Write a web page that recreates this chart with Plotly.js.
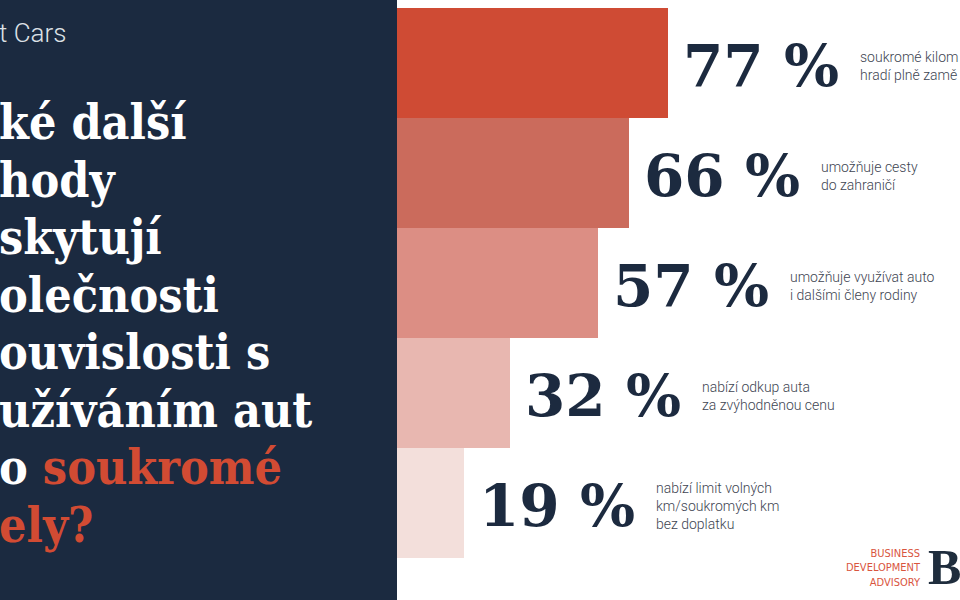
<!DOCTYPE html>
<html><head><meta charset="utf-8">
<script src="https://cdn.plot.ly/plotly-3.0.1.min.js"></script>
<style>html,body{margin:0;padding:0;background:#fff;overflow:hidden}#chart{width:960px;height:600px;}</style>
</head><body><div id="chart"></div>
<script>
// ---- data ----
const categories = ["soukromé km", "cesty do zahraničí", "členové rodiny", "odkup auta", "limit volných km"];
const values = [77, 66, 57, 32, 19];
const valueLabels = ["77 %", "66 %", "57 %", "32 %", "19 %"];
const descriptions = [
  "soukromé kilom<br>hradí plně zamě",
  "umožňuje cesty<br>do zahraničí",
  "umožňuje využívat auto<br>i dalšími členy rodiny",
  "nabízí odkup auta<br>za zvýhodněnou cenu",
  "nabízí limit volných<br>km/soukromých km<br>bez doplatku"
];
const titleLines = [
  "ké další",
  "hody",
  "skytují",
  "olečnosti",
  "ouvislosti s",
  "užíváním aut",
  "o <span style=\"color:#d24b33\">soukromé</span>",
  "<span style=\"color:#d24b33\">ely?</span>"
];
const topLabel = "t Cars";
const logoText = "BUSINESS<br>DEVELOPMENT<br>ADVISORY";
const logoLetter = "B";

// ---- styles ----
const barColors = ["#cf4b34", "#cb6b5c", "#dc8e84", "#e8b7b0", "#f3dfdb"];
const W = 960, H = 600;
const navy = "#1b2a40";
const px = v => v / W;
const py = v => 1 - v / H;

const annotations = [];
titleLines.forEach((t, i) => {
  annotations.push({
    xref: "paper", yref: "paper", x: px(-3), y: py(122 + 57.5 * i),
    xanchor: "left", yanchor: "middle", showarrow: false, text: t, align: "left",
    font: {family: "DejaVu Serif Condensed, DejaVu Serif", size: 48, color: "#ffffff", weight: 700}
  });
});
annotations.push({
  xref: "paper", yref: "paper", x: px(-3), y: py(33), xanchor: "left", yanchor: "middle",
  showarrow: false, text: topLabel,
  font: {family: "Roboto", size: 26, color: "#dde1e6", weight: 300}
});
values.forEach((v, i) => {
  annotations.push({
    xref: "x", yref: "y", x: v, y: categories[i], xanchor: "right", yanchor: "middle",
    xshift: 173, yshift: -3, showarrow: false, text: valueLabels[i],
    font: {family: "DejaVu Serif", size: 58, color: "#1c2a3f", weight: 700}
  });
  annotations.push({
    xref: "x", yref: "y", x: v, y: categories[i], xanchor: "left", yanchor: "middle",
    xshift: 190, yshift: -3, showarrow: false, text: descriptions[i], align: "left",
    font: {family: "Roboto", size: 14, color: "#3e4552", weight: 300}
  });
});
annotations.push({
  xref: "paper", yref: "paper", x: px(923), y: py(568), xanchor: "right", yanchor: "middle",
  showarrow: false, text: logoText, align: "right",
  font: {family: "DejaVu Sans Condensed, DejaVu Sans", size: 11, color: "#d9553e"}
});
annotations.push({
  xref: "paper", yref: "paper", x: px(926), y: py(567), xanchor: "left", yanchor: "middle",
  showarrow: false, text: logoLetter,
  font: {family: "Liberation Serif", size: 50, color: "#1f2d3d", weight: 700}
});

const trace = {
  type: "bar", orientation: "h", x: values, y: categories,
  marker: {color: barColors, line: {width: 0}}, hoverinfo: "skip", width: 1
};

const layout = {
  width: W, height: H,
  margin: {l: 0, r: 0, t: 0, b: 0, pad: 0},
  paper_bgcolor: "#ffffff", plot_bgcolor: "rgba(0,0,0,0)",
  showlegend: false, bargap: 0,
  xaxis: {domain: [397 / W, 1], range: [0, 563 / 3.52], visible: false, fixedrange: true},
  yaxis: {domain: [py(558), py(8)], type: "category", autorange: "reversed", visible: false, fixedrange: true},
  shapes: [{type: "rect", xref: "paper", yref: "paper", x0: 0, x1: px(397), y0: 0, y1: 1,
            fillcolor: navy, line: {width: 0}, layer: "below"}],
  annotations: annotations
};

Plotly.newPlot("chart", [trace], layout, {staticPlot: true, displayModeBar: false});
</script>
</body></html>
